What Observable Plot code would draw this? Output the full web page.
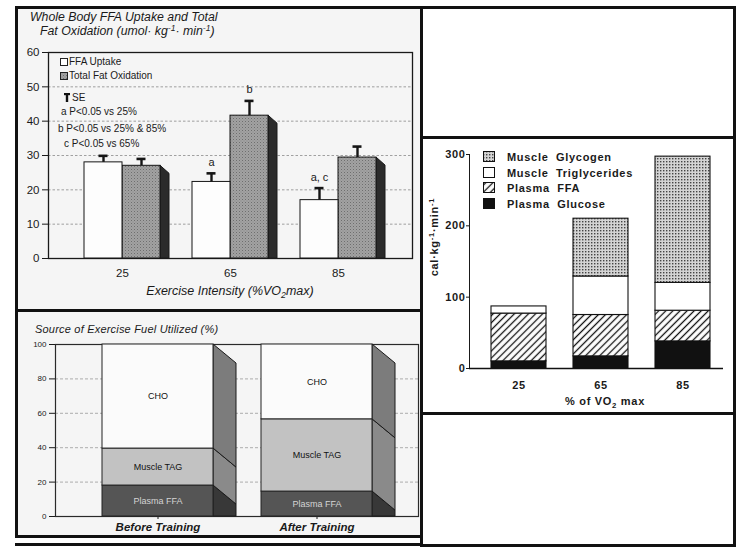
<!DOCTYPE html>
<html><head><meta charset="utf-8">
<script src="https://cdn.jsdelivr.net/npm/d3@7"></script>
<script src="https://cdn.jsdelivr.net/npm/@observablehq/plot@0.6"></script>
<style>
html,body{margin:0;padding:0;background:#fff;}
#page{position:relative;width:738px;height:551px;overflow:hidden;font-family:"Liberation Sans",Arial,Helvetica,sans-serif;color:#1a1a1a;}
.box{position:absolute;border:3px solid #111;box-sizing:border-box;}
.abs{position:absolute;white-space:nowrap;line-height:1;}
.layer{position:absolute;}
.layer svg{display:block;max-width:none;}
.it{font-style:italic;}
.c3{font-weight:bold;font-size:11px;letter-spacing:0.7px;}
sub{font-size:70%;vertical-align:-0.35em;line-height:0;}
sup{font-size:70%;vertical-align:0.5em;line-height:0;}
#c2 g[aria-label^="x-axis"] text{font-size:11.5px;font-weight:bold;font-style:italic;}
</style></head>
<body>
<svg width="0" height="0" style="position:absolute">
 <defs>
  <pattern id="stipple" width="3" height="3" patternUnits="userSpaceOnUse">
   <rect width="3" height="3" fill="#a2a2a2"/><rect width="1" height="1" fill="#6e6e6e"/><rect x="1.5" y="1.5" width="1" height="1" fill="#858585"/>
  </pattern>
  <pattern id="dots" width="3" height="3" patternUnits="userSpaceOnUse">
   <rect width="3" height="3" fill="#d4d4d4"/><rect width="1.4" height="1.4" fill="#444"/>
  </pattern>
  <pattern id="hatch" width="5" height="5" patternUnits="userSpaceOnUse" patternTransform="rotate(45)">
   <rect width="5" height="5" fill="#fff"/><line x1="2.5" y1="0" x2="2.5" y2="5" stroke="#111" stroke-width="1.3"/>
  </pattern>
 </defs>
</svg>
<div id="page">
 <div class="box" style="left:15px;top:6px;width:408px;height:306px;background:#f5f5f5"></div>
 <div class="box" style="left:15px;top:309px;width:408px;height:229px;background:#f5f5f5"></div>
 <div class="box" style="left:420px;top:6px;width:316px;height:133px;background:#fff"></div>
 <div class="box" style="left:420px;top:136px;width:316px;height:279px;background:#fff"></div>
 <div class="box" style="left:420px;top:412px;width:316px;height:135px;background:#fff"></div>
 <div style="position:absolute;left:15px;top:543px;width:406px;height:3px;background:#111"></div>
</div>
<script>
// ---------- Chart 1: Whole body FFA uptake and total fat oxidation ----------
const intensities = ["25", "65", "85"];
const series1 = ["FFA Uptake", "Total Fat Oxidation"];
const ffaUptake = [28, 22.3, 17];
const ffaUptakeSE = [1.9, 2.5, 3.5];
const fatOxidation = [27, 41.6, 29.4];
const fatOxidationSE = [2, 4.3, 3.2];
const ffaSig = ["", "a", "a, c"];
const fatSig = ["", "b", ""];
const ticks1 = [0, 10, 20, 30, 40, 50, 60];

// ---------- Chart 2: Source of exercise fuel utilized (%) ----------
const periods = ["Before Training", "After Training"];
const sources2 = ["Plasma FFA", "Muscle TAG", "CHO"];
const plasmaFFA2 = [18, 14.5];
const muscleTAG2 = [21.5, 42];
const cho2 = [60.5, 43.5];
const ticks2 = [0, 20, 40, 60, 80, 100];

// ---------- Chart 3: fuel use by % of VO2 max ----------
const vo2 = ["25", "65", "85"];
const fuels3 = ["Plasma Glucose", "Plasma FFA", "Muscle Triglycerides", "Muscle Glycogen"];
const plasmaGlucose3 = [10, 17, 38];
const plasmaFFA3 = [67, 58, 43];
const muscleTG3 = [10, 54, 39];
const muscleGlycogen3 = [0, 81, 177];
const ticks3 = [0, 100, 200, 300];

const page = document.getElementById("page");
function addLayer(node, left, top, id) {
  const d = document.createElement("div");
  d.className = "layer"; d.style.left = left + "px"; d.style.top = top + "px";
  if (id) d.id = id;
  d.appendChild(node); page.appendChild(d); return d;
}
function addText(html, left, top, cls, extra) {
  const d = document.createElement("div");
  d.className = "abs " + (cls || "");
  d.style.left = left + "px"; d.style.top = top + "px";
  if (extra) Object.assign(d.style, extra);
  d.innerHTML = html; page.appendChild(d); return d;
}
function extrude(svg, depthX, depthY, base, sideFill) {
  const ns = "http://www.w3.org/2000/svg";
  svg.querySelectorAll('g[aria-description="extrude"] rect').forEach(r => {
    const x = +r.getAttribute("x"), y = +r.getAttribute("y");
    const w = +r.getAttribute("width"), h = +r.getAttribute("height");
    const R = x + w, B = y + h;
    const p = document.createElementNS(ns, "polygon");
    p.setAttribute("points", [[R, y], [R + depthX, Math.min(y + depthY, base)], [R + depthX, Math.min(B + depthY, base)], [R, B]].map(d => d.join(",")).join(" "));
    p.setAttribute("fill", sideFill(r.getAttribute("fill")));
    p.setAttribute("stroke", "#1a1a1a");
    p.setAttribute("stroke-width", "1");
    r.parentNode.insertBefore(p, r);
  });
}
const FONT = '"Liberation Sans", Arial, Helvetica, sans-serif';

// ===== Chart 1 =====
const L1 = {width: 402, height: 268, marginLeft: 30, marginRight: 8, marginTop: 12, marginBottom: 50};
const style1 = {background: "transparent", fontFamily: FONT, fontSize: "11.5px", color: "#1a1a1a"};
const y1opts = {domain: [0, 60], ticks: ticks1, tickSize: 6, tickPadding: 3, label: null};
const base1 = Plot.plot({
  ...L1, style: style1,
  x: {type: "band", domain: intensities, paddingInner: 0, paddingOuter: 0.17, tickSize: 0, tickPadding: 10, label: null},
  y: y1opts,
  marks: [
    Plot.ruleY(ticks1.slice(1, -1), {stroke: "#8a8a8a", strokeDasharray: "2.5,2", strokeWidth: 0.8}),
    Plot.frame({stroke: "#1a1a1a", strokeWidth: 1.3})
  ]
});
addLayer(base1, 18, 40);

const d1 = intensities.flatMap((g, i) => [
  {g, s: series1[0], v: ffaUptake[i], hi: ffaUptake[i] + ffaUptakeSE[i], sig: ffaSig[i]},
  {g, s: series1[1], v: fatOxidation[i], hi: fatOxidation[i] + fatOxidationSE[i], sig: fatSig[i]}
]);
const bars1 = Plot.plot({
  ...L1, style: style1,
  fx: {domain: intensities, paddingInner: 0, paddingOuter: 0.17, axis: null, label: null},
  x: {domain: series1, paddingInner: 0, paddingOuter: 0.4, axis: null},
  y: {...y1opts, axis: null},
  color: {domain: series1, range: ["#fdfdfd", "url(#stipple)"]},
  marks: [
    Plot.barY(d1.filter(d => d.s === series1[1]), {fx: "g", x: "s", y: "v", fill: "s", stroke: "#151515", strokeWidth: 1, ariaDescription: "extrude"}),
    Plot.barY(d1.filter(d => d.s === series1[0]), {fx: "g", x: "s", y: "v", fill: "s", stroke: "#151515", strokeWidth: 1}),
    Plot.ruleX(d1, {fx: "g", x: "s", y1: "v", y2: "hi", stroke: "#151515", strokeWidth: 2.4}),
    Plot.tickY(d1, {fx: "g", x: "s", y: "hi", stroke: "#151515", strokeWidth: 2.6, insetLeft: 14.5, insetRight: 14.5}),
    Plot.text(d1.filter(d => d.sig), {fx: "g", x: "s", y: "hi", text: "sig", dy: -11, fontSize: 11, fill: "#1a1a1a"})
  ]
});
extrude(bars1, 9, 8, bars1.scale("y").apply(0), () => "#2b2b2b");
addLayer(bars1, 18, 40);

addText("Whole Body FFA Uptake and Total", 30, 11, "it", {fontSize: "12.3px"});
addText("Fat Oxidation (umol· kg<sup>-1</sup>· min<sup>-1</sup>)", 40, 25, "it", {fontSize: "12.3px"});
const sw = (fill) => `<svg width="8" height="8" style="position:absolute;left:-9px;top:1px"><rect x="0.5" y="0.5" width="7" height="7" fill="${fill}" stroke="#222"/></svg>`;
addText(sw("#fff") + "FFA Uptake", 69, 57, "", {fontSize: "10px"});
addText(sw("url(#stipple)") + "Total Fat Oxidation", 69, 71, "", {fontSize: "10px"});
addText('<svg width="6" height="9" style="position:absolute;left:-8px;top:0"><rect x="0" y="0" width="6" height="2.2" fill="#111"/><rect x="1.8" y="0" width="2.4" height="9" fill="#111"/></svg>SE', 72, 93, "", {fontSize: "10px"});
addText("a P&lt;0.05 vs 25%", 61, 107, "", {fontSize: "10px"});
addText("b P&lt;0.05 vs 25% &amp; 85%", 58, 124, "", {fontSize: "10px"});
addText("c P&lt;0.05 vs 65%", 64, 139, "", {fontSize: "10px"});
addText("Exercise Intensity (%VO<sub>2</sub>max)", 230, 285, "it", {fontSize: "12.5px", transform: "translateX(-50%)"});

// ===== Chart 2 =====
const L2 = {width: 402, height: 200, marginLeft: 37, marginRight: 2, marginTop: 8, marginBottom: 20};
const d2 = periods.flatMap((p, i) => [
  {p, src: sources2[0], v: plasmaFFA2[i]},
  {p, src: sources2[1], v: muscleTAG2[i]},
  {p, src: sources2[2], v: cho2[i]}
]);
const colors2 = ["#555555", "#c2c2c2", "#fbfbfb"];
const sideColors2 = {"#555555": "#383838", "#c2c2c2": "#8a8a8a", "#fbfbfb": "#7c7c7c"};
const plot2 = Plot.plot({
  ...L2, style: {background: "transparent", fontFamily: FONT, fontSize: "8px", color: "#1a1a1a"},
  x: {domain: periods, paddingInner: 0.302, paddingOuter: 0.29, tickSize: 3, tickPadding: 3, label: null},
  y: {domain: [0, 100], ticks: ticks2, tickSize: 6, tickPadding: 3, label: null},
  color: {domain: sources2, range: colors2},
  marks: [
    Plot.ruleY(ticks2.slice(1, -1), {stroke: "#9a9a9a", strokeDasharray: "3,2", strokeWidth: 0.8}),
    Plot.frame({stroke: "#2a2a2a", strokeWidth: 1.2}),
    Plot.barY(d2, {x: "p", y: "v", fill: "src", stroke: "#222", strokeWidth: 1, ariaDescription: "extrude"}),
    Plot.text(d2, Plot.stackY({x: "p", y: "v", text: d => d.src === "Plasma FFA" ? "" : d.src, fill: "#111", fontSize: 9})),
    Plot.text(d2, Plot.stackY({x: "p", y: "v", text: d => d.src === "Plasma FFA" ? d.src : "", fill: "#d4d4d4", fontSize: 9}))
  ]
});
extrude(plot2, 23, 19, plot2.scale("y").apply(0), f => sideColors2[f] || "#777");
addLayer(plot2, 18, 336, "c2");
addText("Source of Exercise Fuel Utilized (%)", 35, 324, "it", {fontSize: "11px", letterSpacing: "0.2px"});

// ===== Chart 3 =====
const L3 = {width: 309, height: 272, marginLeft: 46, marginRight: 0, marginTop: 14, marginBottom: 44};
const d3rows = vo2.flatMap((p, i) => [
  {p, f: fuels3[0], v: plasmaGlucose3[i]},
  {p, f: fuels3[1], v: plasmaFFA3[i]},
  {p, f: fuels3[2], v: muscleTG3[i]},
  {p, f: fuels3[3], v: muscleGlycogen3[i]}
]);
const colors3 = ["#111111", "url(#hatch)", "#ffffff", "url(#dots)"];
const plot3 = Plot.plot({
  ...L3, style: {background: "transparent", fontFamily: FONT, fontSize: "11px", fontWeight: "bold", letterSpacing: "0.6px", color: "#1a1a1a"},
  x: {domain: vo2, paddingInner: 0.325, paddingOuter: 0.253, tickSize: 0, tickPadding: 13, label: null},
  y: {domain: [0, 300], ticks: ticks3, tickSize: 3, tickPadding: 1, line: true, label: null},
  color: {domain: fuels3, range: colors3},
  marks: [
    Plot.barY(d3rows.filter(d => d.v > 0), {x: "p", y: "v", fill: "f", stroke: "#111", strokeWidth: 1.1}),
    Plot.ruleY([0], {stroke: "#111", strokeWidth: 1.5, insetRight: 9})
  ]
});
addLayer(plot3, 423, 140);

const legendOrder = fuels3.slice().reverse();
legendOrder.forEach((f, i) => {
  const fill = colors3[fuels3.indexOf(f)];
  addText(`<svg width="12" height="11" style="position:absolute;left:-24px;top:-1px"><rect x="0.5" y="0.5" width="11" height="10" fill="${fill}" stroke="#111"/></svg>` + f.replace(" ", "&nbsp;&nbsp;"), 507, 152 + i * 15.5, "c3");
});
addText("cal·kg<sup>-1</sup>·min<sup>-1</sup>", 434, 237, "c3", {transform: "translate(-50%,-50%) rotate(-90deg)"});
addText("% of VO<sub>2</sub> max", 605, 396, "c3", {transform: "translateX(-50%)"});
</script>
</body></html>
